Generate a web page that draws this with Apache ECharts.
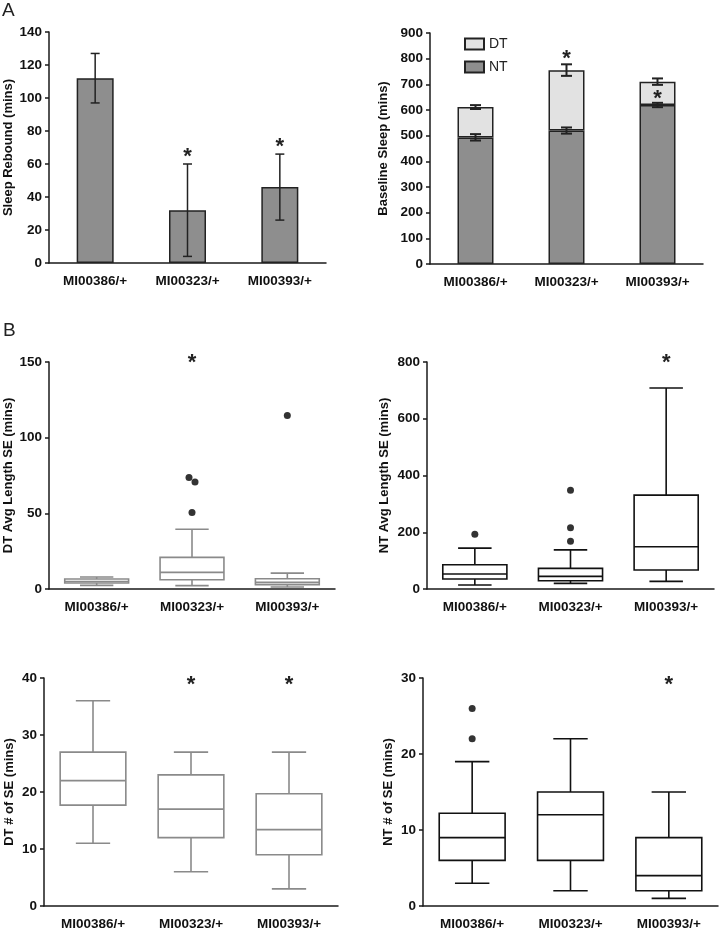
<!DOCTYPE html>
<html><head><meta charset="utf-8">
<script src="https://cdn.jsdelivr.net/npm/echarts@6/dist/echarts.min.js"></script>
<style>html,body{margin:0;padding:0;background:#fff}#c{width:719px;height:931px}</style>
</head><body><div id="c"></div>
<script>
// ---------- DATA ----------
const categories = ['MI00386/+', 'MI00323/+', 'MI00393/+'];

// Panel A-left: Sleep Rebound
const reboundMean = [112, 32, 46];
const reboundLow  = [97, 4, 26];
const reboundHigh = [127, 60, 66];
const reboundStars = [[1, 67], [2, 72.5]];

// Panel A-right: Baseline Sleep (stacked)
const baselineNT = [493, 520, 619];
const baselineTotal = [612, 755, 710];
const baselineNTLow = [481, 508, 611];
const baselineNTHigh = [506, 532, 628];
const baselineTotLow = [604, 733, 698];
const baselineTotHigh = [619, 778, 723];
const baselineStars = [[1, 814], [2, 658]];

// Panel B boxplots: [min, Q1, median, Q3, max]
const dtAvgBox = [[2.4, 4.0, 5.0, 6.6, 7.9], [2.2, 6.1, 11, 20.9, 39.5], [1.3, 2.9, 4.4, 6.8, 10.5]];
const dtAvgOut = [[1, 73.6], [1, 70.7], [1, 50.5], [2, 114.6]];
const dtAvgStars = [[1, 152]];

const ntAvgBox = [[14, 35, 52.7, 85.5, 144], [20, 29, 44.5, 72.6, 138], [27, 66.8, 148.7, 331, 708.6]];
const ntAvgOut = [[0, 193], [1, 348], [1, 215.5], [1, 168.6]];
const ntAvgStars = [[2, 810]];

const dtNumBox = [[11, 17.7, 22, 27, 36], [6, 12, 17, 23, 27], [3, 9, 13.4, 19.7, 27]];
const dtNumStars = [[1, 39.5], [2, 39.5]];

const ntNumBox = [[3, 6, 9, 12.2, 19], [2, 6, 12, 15, 22], [1, 2, 4, 9, 15]];
const ntNumOut = [[0, 26], [0, 22]];
const ntNumStars = [[2, 29.6]];

// ---------- STYLE / LAYOUT ----------
const FONT = 'Liberation Sans, Arial, sans-serif';
const AXC = '#1a1a1a';
const grids = [
  {left: 49, top: 32, width: 277, height: 231},
  {left: 430, top: 33, width: 273, height: 231},
  {left: 49, top: 362, width: 286, height: 227},
  {left: 427, top: 362, width: 287, height: 227},
  {left: 44, top: 678, width: 294, height: 228},
  {left: 423, top: 678, width: 295, height: 228}
];
const yCfg = [
  {max: 140, interval: 20, name: 'Sleep Rebound (mins)', gap: 34},
  {max: 900, interval: 100, name: 'Baseline Sleep (mins)', gap: 40},
  {max: 150, interval: 50, name: 'DT Avg Length SE (mins)', gap: 34},
  {max: 800, interval: 200, name: 'NT Avg Length SE (mins)', gap: 36},
  {max: 40, interval: 10, name: 'DT # of SE (mins)', gap: 28},
  {max: 30, interval: 10, name: 'NT # of SE (mins)', gap: 28}
];

const xAxis = grids.map((g, i) => ({
  gridIndex: i, type: 'category', data: categories,
  axisLine: {lineStyle: {color: AXC, width: 1.5}},
  axisTick: {alignWithLabel: true, length: 5, lineStyle: {color: AXC, width: 1.5}},
  axisLabel: {color: '#111', fontWeight: 'bold', fontSize: 13.5, fontFamily: FONT, margin: 11}
}));
const yAxis = yCfg.map((c, i) => ({
  gridIndex: i, type: 'value', min: 0, max: c.max, interval: c.interval,
  name: c.name, nameLocation: 'middle', nameGap: c.gap, nameRotate: 90,
  nameTextStyle: {color: '#111', fontWeight: 'bold', fontSize: 13, fontFamily: FONT},
  splitLine: {show: false},
  axisLine: {show: true, lineStyle: {color: AXC, width: 1.5}},
  axisTick: {show: true, length: 4, lineStyle: {color: AXC, width: 1.5}},
  axisLabel: {color: '#111', fontWeight: 'bold', fontSize: 13.5, fontFamily: FONT, margin: 7}
}));

function errSeries(idx, lows, highs, capHalf, lw) {
  return {
    type: 'custom', xAxisIndex: idx, yAxisIndex: idx, z: 10,
    data: lows.map((l, i) => [i, l, highs[i]]),
    renderItem: function (params, api) {
      const lo = api.coord([api.value(0), api.value(1)]);
      const hi = api.coord([api.value(0), api.value(2)]);
      const st = {stroke: '#222', lineWidth: lw};
      return {type: 'group', children: [
        {type: 'line', shape: {x1: lo[0], y1: lo[1], x2: hi[0], y2: hi[1]}, style: st},
        {type: 'line', shape: {x1: lo[0] - capHalf, y1: lo[1], x2: lo[0] + capHalf, y2: lo[1]}, style: st},
        {type: 'line', shape: {x1: hi[0] - capHalf, y1: hi[1], x2: hi[0] + capHalf, y2: hi[1]}, style: st}
      ]};
    }
  };
}

function starSeries(idx, pts) {
  return {
    type: 'custom', xAxisIndex: idx, yAxisIndex: idx, z: 20, clip: false, silent: true,
    data: pts,
    renderItem: function (params, api) {
      const p = api.coord([api.value(0), api.value(1)]);
      return {type: 'text', x: p[0], y: p[1] + 4,
        style: {text: '*', fill: '#222', fontSize: 22, fontWeight: 'bold', fontFamily: FONT,
                align: 'center', verticalAlign: 'middle'}};
    }
  };
}

function boxSeries(idx, boxes, color) {
  return {
    type: 'custom', xAxisIndex: idx, yAxisIndex: idx, z: 5,
    data: boxes.map((b, i) => [i].concat(b)),
    renderItem: function (params, api) {
      const x = api.value(0);
      const band = api.size([1, 0])[0];
      const hw = band * 0.335, cw = band * 0.175;
      const p = [1, 2, 3, 4, 5].map(k => api.coord([x, api.value(k)]));
      const cx = p[0][0];
      const st = {stroke: color, lineWidth: 1.6, fill: null};
      return {type: 'group', children: [
        {type: 'line', shape: {x1: cx, y1: p[0][1], x2: cx, y2: p[1][1]}, style: st},
        {type: 'line', shape: {x1: cx, y1: p[3][1], x2: cx, y2: p[4][1]}, style: st},
        {type: 'line', shape: {x1: cx - cw, y1: p[0][1], x2: cx + cw, y2: p[0][1]}, style: st},
        {type: 'line', shape: {x1: cx - cw, y1: p[4][1], x2: cx + cw, y2: p[4][1]}, style: st},
        {type: 'rect', shape: {x: cx - hw, y: p[3][1], width: 2 * hw, height: p[1][1] - p[3][1]},
         style: {stroke: color, lineWidth: 1.6, fill: '#fff'}},
        {type: 'line', shape: {x1: cx - hw, y1: p[2][1], x2: cx + hw, y2: p[2][1]}, style: st}
      ]};
    }
  };
}

function outSeries(idx, pts, offsets) {
  return {
    type: 'scatter', xAxisIndex: idx, yAxisIndex: idx, z: 15, symbolSize: 7,
    itemStyle: {color: '#000'}, silent: true,
    data: pts.map((p, i) => ({value: p, symbolOffset: offsets && offsets[i] ? offsets[i] : [0, 0]}))
  };
}

const barBorder = {borderColor: '#222', borderWidth: 1.5};
const series = [
  {type: 'bar', xAxisIndex: 0, yAxisIndex: 0, data: reboundMean, barWidth: 37,
   itemStyle: Object.assign({color: '#8e8e8e'}, barBorder)},
  errSeries(0, reboundLow, reboundHigh, 4.5, 1.5),
  starSeries(0, reboundStars),
  {type: 'bar', name: 'NT', xAxisIndex: 1, yAxisIndex: 1, stack: 'b', data: baselineNT, barWidth: 36,
   itemStyle: Object.assign({color: '#8e8e8e'}, barBorder)},
  {type: 'bar', name: 'DT', xAxisIndex: 1, yAxisIndex: 1, stack: 'b',
   data: baselineTotal.map((t, i) => t - baselineNT[i]), barWidth: 36,
   itemStyle: Object.assign({color: '#e2e2e2'}, barBorder)},
  errSeries(1, baselineNTLow, baselineNTHigh, 5.5, 2),
  errSeries(1, baselineTotLow, baselineTotHigh, 5.5, 2),
  starSeries(1, baselineStars),
  boxSeries(2, dtAvgBox, '#8a8a8a'),
  outSeries(2, dtAvgOut, [[-3, 0], [3, 0]]),
  starSeries(2, dtAvgStars),
  boxSeries(3, ntAvgBox, '#111'),
  outSeries(3, ntAvgOut),
  starSeries(3, ntAvgStars),
  boxSeries(4, dtNumBox, '#8a8a8a'),
  starSeries(4, dtNumStars),
  boxSeries(5, ntNumBox, '#111'),
  outSeries(5, ntNumOut),
  starSeries(5, ntNumStars)
];

const chart = echarts.init(document.getElementById('c'), null, {renderer: 'canvas'});
chart.setOption({
  animation: false,
  backgroundColor: '#fff',
  grid: grids,
  xAxis: xAxis,
  yAxis: yAxis,
  legend: {
    data: ['DT', 'NT'], orient: 'vertical', left: 459, top: 32, icon: 'rect',
    itemWidth: 19, itemHeight: 11, itemGap: 9, selectedMode: false,
    textStyle: {fontSize: 14, color: '#222', fontFamily: FONT}
  },
  graphic: [
    {type: 'text', left: 2, top: 1, style: {text: 'A', fontSize: 19, fill: '#222', fontFamily: FONT}},
    {type: 'text', left: 3, top: 321, style: {text: 'B', fontSize: 19, fill: '#222', fontFamily: FONT}}
  ],
  series: series
});
</script></body></html>
